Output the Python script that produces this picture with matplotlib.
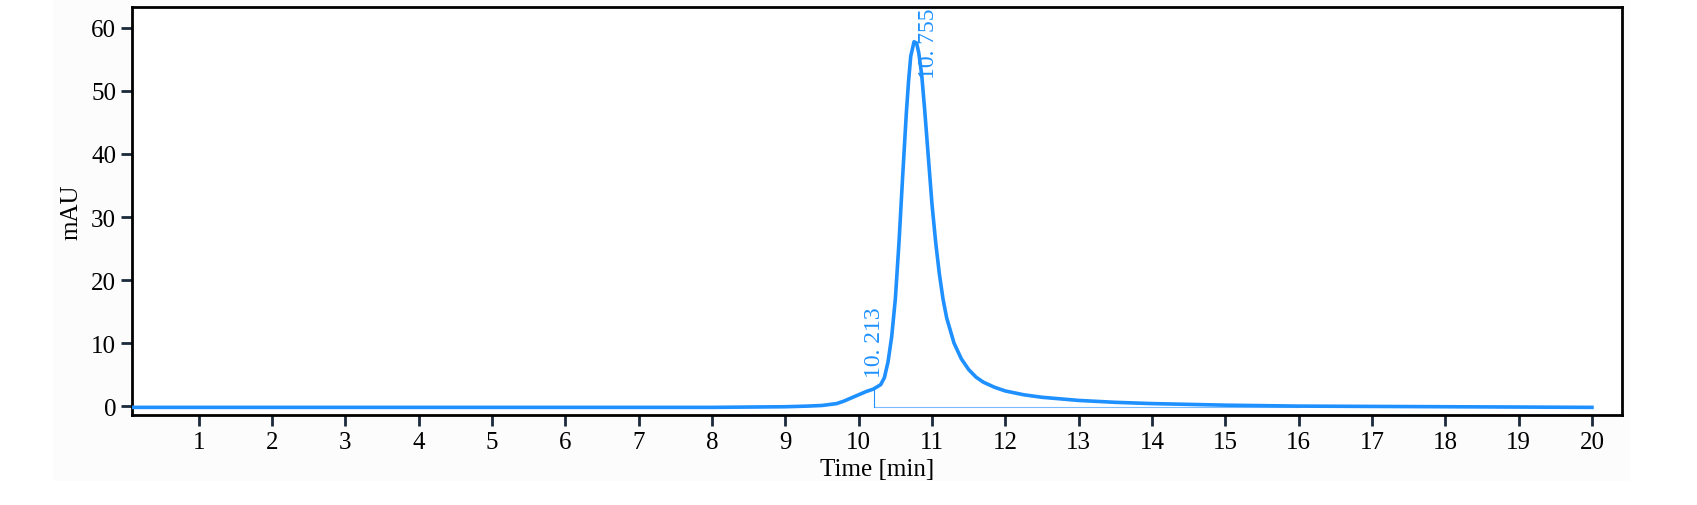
import matplotlib
matplotlib.use("Agg")
import matplotlib.pyplot as plt
from matplotlib.patches import Rectangle

# chromatogram trace
time_min = [0.1, 2.0, 4.0, 6.0, 8.0, 8.5, 9.0, 9.3, 9.5, 9.7, 9.8, 9.9, 10.0, 10.1,
            10.2, 10.3, 10.35, 10.4, 10.45, 10.5, 10.55, 10.6, 10.65, 10.68, 10.71,
            10.755, 10.79, 10.82, 10.86, 10.9, 10.95, 11.0, 11.05, 11.1, 11.15,
            11.2, 11.3, 11.4, 11.5, 11.6, 11.7, 11.85, 12.0, 12.25, 12.5, 13.0,
            13.5, 14.0, 15.0, 16.0, 17.0, 18.0, 19.0, 20.0]
mau = [-0.2, -0.2, -0.2, -0.2, -0.2, -0.15, -0.1, 0.0, 0.1, 0.4, 0.8, 1.3, 1.8, 2.3,
       2.7, 3.4, 4.5, 7.0, 11.0, 17.0, 26.0, 36.5, 46.5, 51.5, 55.5,
       57.8, 57.6, 56.0, 52.5, 47.0, 39.5, 32.0, 26.0, 21.0, 17.0,
       14.0, 10.0, 7.5, 5.8, 4.6, 3.8, 3.0, 2.4, 1.8, 1.4, 0.9,
       0.6, 0.4, 0.15, 0.0, -0.05, -0.1, -0.15, -0.2]

peak_times = [10.213, 10.755]
peak_labels = ["10. 213", "10. 755"]
peak_heights = [2.9, 57.8]

blue = "#1E90FF"
plt.rcParams['font.family'] = ['Liberation Serif', 'DejaVu Serif']

fig = plt.figure(figsize=(16.97, 5.06), dpi=100)
fig.patches.append(Rectangle((53 / 1697, 1 - 482 / 506), (1630 - 53) / 1697, 482 / 506,
                             transform=fig.transFigure, facecolor="#fcfcfc",
                             edgecolor="none", zorder=-10))
ax = fig.add_axes([0.0778, 0.178, 0.878, 0.806])
ax.set_facecolor("white")

ax.plot(time_min, mau, color=blue, lw=2.6, zorder=3)

# integration baseline and drop line
ax.plot([peak_times[0], 16.0], [-0.1, -0.1], color=blue, lw=0.8, alpha=0.6)
ax.plot([peak_times[0], peak_times[0]], [-0.2, peak_heights[0]], color=blue, lw=0.8)

ax.text(peak_times[0], 4.6, peak_labels[0], rotation=90, ha="center", va="bottom",
        color=blue, fontsize=17)
ax.text(peak_times[1] + 0.2, 63.2, peak_labels[1], rotation=90, ha="center", va="top",
        color=blue, fontsize=17)

ax.set_xlim(0.09, 20.41)
ax.set_ylim(-1.4, 63.3)
ax.set_xticks(range(1, 21))
ax.set_yticks(range(0, 61, 10))
ax.tick_params(direction="out", length=8, width=2, color="#1a2a3a", labelsize=18)
for s in ax.spines.values():
    s.set_linewidth(2)
ax.set_xlabel("Time [min]", fontsize=18, labelpad=4)
ax.set_ylabel("mAU", fontsize=18, labelpad=6)

fig.savefig("out.png", dpi=100)
